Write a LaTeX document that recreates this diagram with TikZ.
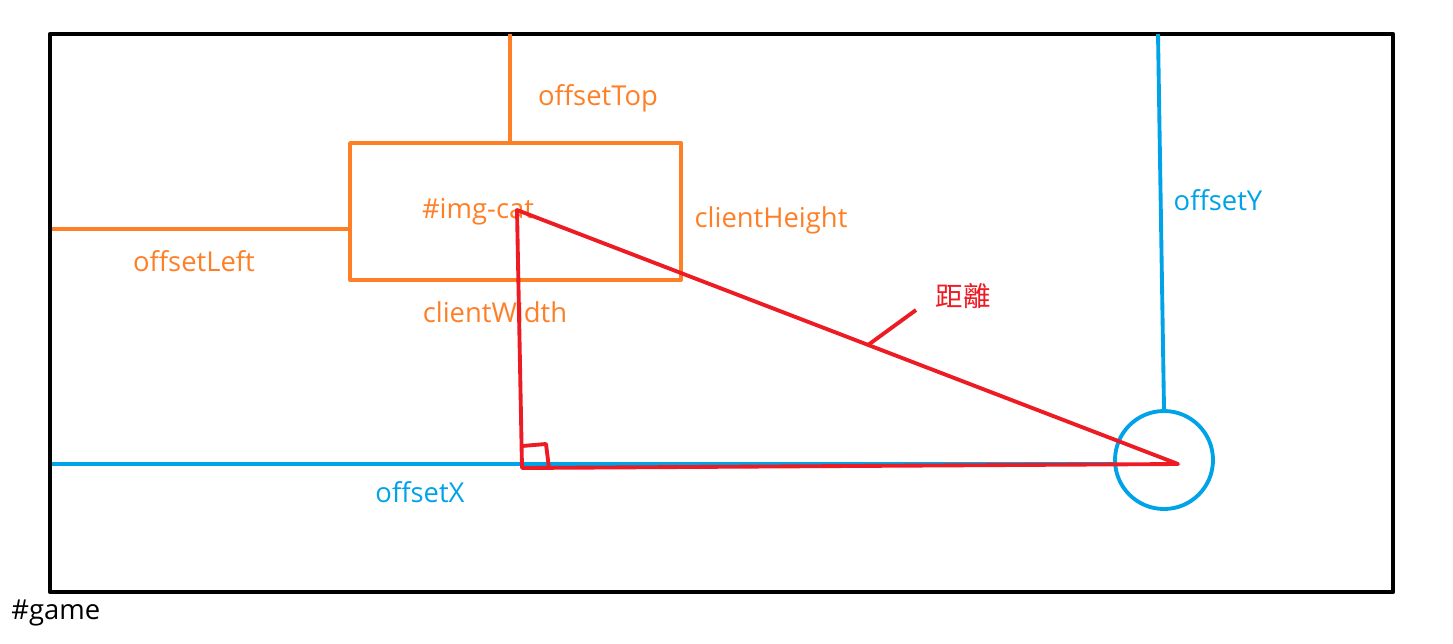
\documentclass[tikz,border=0pt]{standalone}
\usepackage{fontspec}
\setmainfont{Open Sans}
\newfontfamily\cjk{Noto Sans CJK TC}
\usepackage{xcolor}
\definecolor{paintorange}{HTML}{FF7F27}
\definecolor{paintblue}{HTML}{00A2E8}
\definecolor{paintred}{HTML}{ED1C24}

\begin{document}
\begin{tikzpicture}[x=0.02cm, y=-0.02cm, line join=round,
    every node/.style={font=\fontsize{15.6}{18}\selectfont, inner sep=0pt},
    orangeline/.style={draw=paintorange, line width=2.2pt},
    blueline/.style={draw=paintblue, line width=2.2pt},
    redline/.style={draw=paintred, line width=2.2pt}]
    \useasboundingbox (0,0) rectangle (1453,643);
    % game area
    \draw[line width=2.6pt] (50,34) rectangle (1393,592);
    \node[anchor=west] (game) at (11,613) {\#game};

    % image box and its offsets
    \node[orangeline, minimum width=331*0.02cm, minimum height=137*0.02cm]
      (img) at (515.5,211.5) {};
    \coordinate (topedge) at (510,34);
    \coordinate (leftedge) at (52,229);
    \draw[orangeline] (topedge) -- (topedge |- img.north);
    \draw[orangeline] (leftedge) -- (leftedge -| img.west);
    \node[text=paintorange] (imgname) at (478,212) {\#img-cat};
    \node[text=paintorange] (offtop) at (598,98) {offsetTop};
    \node[text=paintorange] (offleft) at (194,261) {offsetLeft};
    \node[text=paintorange] (cheight) at (771,220) {clientHeight};
    \node[text=paintorange] (cwidth) at (495,312) {clientWidth};

    % mouse position
    \node[blueline, circle, minimum size=98*0.02cm] (mouse) at (1164,460) {};
    \coordinate (ytop) at (1158,34);
    \coordinate (xleft) at (52,464);
    \draw[blueline] (ytop) -- (mouse.north);
    \draw[blueline] (xleft) -- (xleft -| mouse.west);
    \node[text=paintblue] (offy) at (1218,200) {offsetY};
    \node[text=paintblue] (offx) at (420,492) {offsetX};

    % distance triangle
    \coordinate (apex) at (517,210);
    \coordinate (corner) at (522,468);
    \coordinate (tip) at (1178,464);
    \draw[redline] (apex) -- (corner) -- (tip) -- cycle;
    \draw[redline] (522,446) -- (546,444) -- (549,468);
    \coordinate (mark) at (868,345);
    \coordinate (markend) at (916,310);
    \draw[redline] (mark) -- (markend);
    \node[text=paintred, font=\cjk\fontsize{15.6}{18}\selectfont] (dist) at (963,296) {距離};
  \end{tikzpicture}
\end{document}
